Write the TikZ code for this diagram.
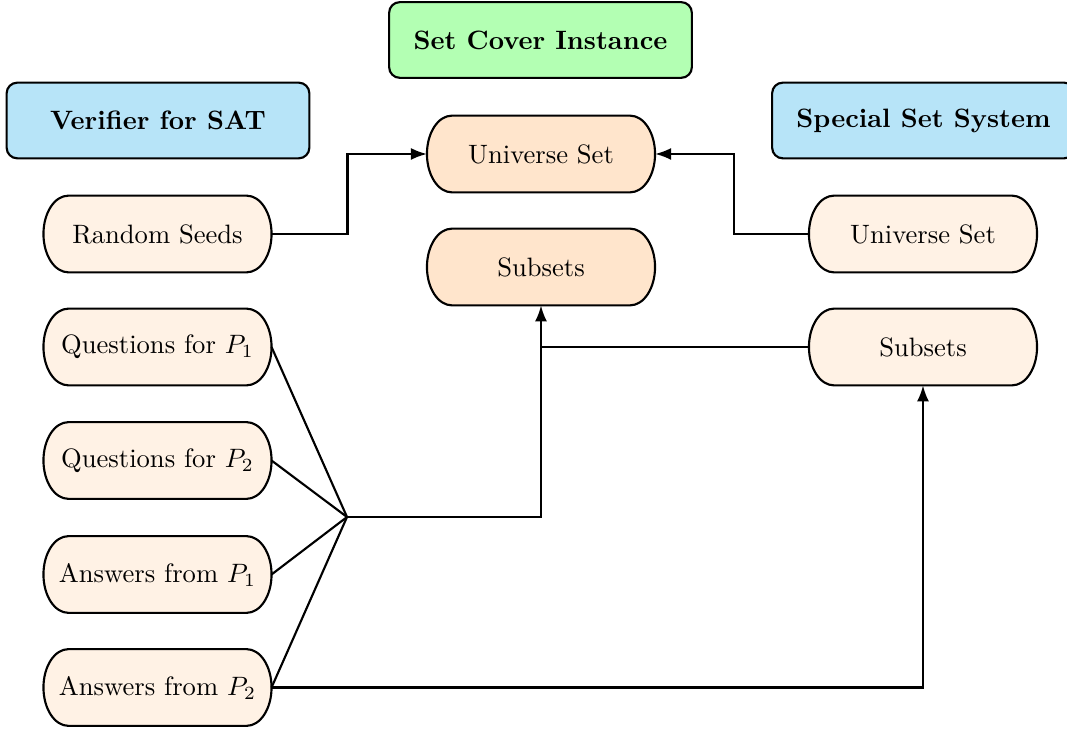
\documentclass[tikz,border=0pt]{standalone}
\usetikzlibrary{calc,arrows.meta}
\definecolor{titleblue}{RGB}{183,228,248}
\definecolor{titlegreen}{RGB}{179,255,179}
\definecolor{coreorange}{RGB}{255,229,204}
\definecolor{sideorange}{RGB}{255,242,229}
\pgfdeclarelayer{background}
\pgfsetlayers{background,main}
\begin{document}
\begin{tikzpicture}[x=0.013210cm,y=-0.013210cm,
  titlebox/.style={draw,thick,rounded corners=4pt,minimum width=4cm,minimum height=1cm,font=\bfseries,inner sep=2pt},
  pill/.style={rectangle,minimum width=3cm,minimum height=1cm,inner sep=0pt},
  pillline/.style={thick},
  conn/.style={thick},
  arr/.style={thick,-{Latex[length=6pt,width=4.5pt]}}]
\useasboundingbox (0,0) rectangle (1067,729);
\node[titlebox,fill=titlegreen] (title) at (540.5,40) {Set Cover Instance};
\node[titlebox,fill=titleblue] (verifier) at (158,120.5) {Verifier for SAT};
\node[titlebox,fill=titleblue] (special) at (923.5,120.5) {Special Set System};
\node[pill] (cU) at (541,154) {Universe Set};
\node[pill] (cS) at (541,267) {Subsets};
\node[pill] (rs) at (157.5,234) {Random Seeds};
\node[pill] (q1) at (157.5,347) {Questions for $P_1$};
\node[pill] (q2) at (157.5,460.5) {Questions for $P_2$};
\node[pill] (a1) at (157.5,574.5) {Answers from $P_1$};
\node[pill] (a2) at (157.5,687.5) {Answers from $P_2$};
\node[pill] (rU) at (923,234) {Universe Set};
\node[pill] (rS) at (923,347) {Subsets};
\begin{pgfonlayer}{background}
\foreach \n/\c in {cU/coreorange,cS/coreorange,rs/sideorange,q1/sideorange,q2/sideorange,a1/sideorange,a2/sideorange,rU/sideorange,rS/sideorange}{
  \draw[pillline,fill=\c]
    ($(\n.north west)+(25,0)$) -- ($(\n.north east)+(-25,0)$)
    .. controls +(14,0) and +(0,-21) .. (\n.east)
    .. controls +(0,21) and +(14,0) .. ($(\n.south east)+(-25,0)$)
    -- ($(\n.south west)+(25,0)$)
    .. controls +(-14,0) and +(0,21) .. (\n.west)
    .. controls +(0,-21) and +(-14,0) .. cycle;
}
\end{pgfonlayer}
\coordinate (J) at (347,517);
\draw[arr] (rs.east) -- ++(76,0) |- (cU.west);
\draw[arr] (rU.west) -- ++(-75,0) |- (cU.east);
\draw[conn] (q1.east) -- (J);
\draw[conn] (q2.east) -- (J);
\draw[conn] (a1.east) -- (J);
\draw[conn] (a2.east) -- (J);
\draw[arr] (J) -| (cS.south);
\draw[conn] (rS.west) -- (cS.south |- rS.west);
\draw[arr] (a2.east) -| (rS.south);
\end{tikzpicture}
\end{document}
